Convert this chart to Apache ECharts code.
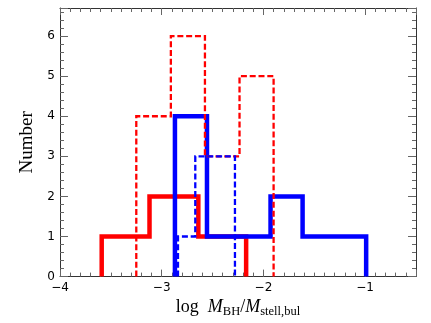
<!DOCTYPE html>
<html>
<head>
<meta charset="utf-8">
<script src="https://cdn.jsdelivr.net/npm/echarts@6/dist/echarts.min.js"></script>
<style>html,body{margin:0;padding:0;background:#fff}#c{width:431px;height:323px}</style>
</head>
<body>
<div id="c"></div>
<script>
// Histogram bin edges and counts
const redSolidEdges = [-3.59, -3.12, -2.64, -2.17];
const redSolidCounts = [1, 2, 1];
const blueSolidEdges = [-2.87, -2.555, -2.24, -1.93, -1.615, -1.30, -0.99];
const blueSolidCounts = [4, 1, 1, 2, 1, 1];
const redDashEdges = [-3.25, -2.91, -2.575, -2.235, -1.90];
const redDashCounts = [4, 6, 3, 5];
const blueDashEdges = [-2.84, -2.67, -2.475, -2.28];
const blueDashCounts = [1, 3, 3];
const xTicks = [-4, -3, -2, -1];
const yTicks = [0, 1, 2, 3, 4, 5, 6];

function outline(edges, counts) {
  const pts = [[edges[0], 0]];
  for (let i = 0; i < counts.length; i++) {
    pts.push([edges[i], counts[i]]);
    pts.push([edges[i + 1], counts[i]]);
  }
  pts.push([edges[edges.length - 1], 0]);
  return pts;
}

const XMIN = -4, XMAX = -0.5, YMIN = 0, YMAX = 6.7;
const frameColor = '#333';
const tickColor = '#666';
const labelFont = {fontFamily: 'DejaVu Sans', fontSize: 12, color: '#000'};

function xAx(pos, interval, len, labels, line, name) {
  const a = {
    type: 'value', position: pos, min: XMIN, max: XMAX, interval: interval,
    axisLine: {show: line, onZero: false, lineStyle: {color: frameColor, width: 1}},
    axisTick: {show: true, inside: true, length: len, lineStyle: {color: tickColor, width: 1}},
    splitLine: {show: false},
    axisLabel: labels ? Object.assign({
      margin: 5,
      formatter: v => xTicks.indexOf(Math.round(v * 1000) / 1000) >= 0 ? String(v).replace('-', '\u2212') : ''
    }, labelFont) : {show: false}
  };
  if (name) Object.assign(a, name);
  return a;
}
function yAx(pos, interval, len, labels, line, name) {
  const a = {
    type: 'value', position: pos, min: YMIN, max: YMAX, interval: interval,
    axisLine: {show: line, onZero: false, lineStyle: {color: frameColor, width: 1}},
    axisTick: {show: true, inside: true, length: len, lineStyle: {color: tickColor, width: 1}},
    splitLine: {show: false},
    axisLabel: labels ? Object.assign({
      margin: 5,
      formatter: v => yTicks.indexOf(Math.round(v * 1000) / 1000) >= 0 ? String(v) : ''
    }, labelFont) : {show: false}
  };
  if (name) Object.assign(a, name);
  return a;
}

const chart = echarts.init(document.getElementById('c'), null, {renderer: 'canvas'});
const option = {
  animation: false,
  backgroundColor: '#fff',
  grid: {left: 60, right: 15, top: 8, bottom: 41, containLabel: false},
  xAxis: [
    xAx('bottom', 1, 7, true, true, {
      name: 'log  {i|M}{s|BH}/{i|M}{s|stell,bul}',
      nameLocation: 'middle', nameGap: 16,
      nameTextStyle: {
        fontFamily: 'Liberation Serif', fontSize: 18, color: '#000', verticalAlign: 'top',
        rich: {
          i: {fontFamily: 'Liberation Serif', fontStyle: 'italic', fontSize: 18, color: '#000'},
          s: {fontFamily: 'Liberation Serif', fontSize: 12.5, color: '#000', padding: [8, 0, 0, 0]}
        }
      }
    }),
    xAx('bottom', 0.1, 4, false, false),
    xAx('top', 1, 7, false, true),
    xAx('top', 0.1, 4, false, false)
  ],
  yAxis: [
    yAx('left', 1, 8, true, true, {
      name: 'Number', nameLocation: 'middle', nameGap: 13, nameRotate: 90,
      nameTextStyle: {fontFamily: 'Liberation Serif', fontSize: 19, color: '#000'}
    }),
    yAx('left', 0.2, 4, false, false),
    yAx('right', 1, 8, false, true),
    yAx('right', 0.2, 4, false, false)
  ],
  series: [
    {type: 'line', name: 'red solid', data: outline(redSolidEdges, redSolidCounts), symbol: 'none', z: 2,
     lineStyle: {color: '#ff0000', width: 4.5, type: 'solid', join: 'miter', cap: 'butt'}},
    {type: 'line', name: 'blue solid', data: outline(blueSolidEdges, blueSolidCounts), symbol: 'none', z: 3,
     lineStyle: {color: '#0000ff', width: 4.5, type: 'solid', join: 'miter', cap: 'butt'}},
    {type: 'line', name: 'red dashed', data: outline(redDashEdges, redDashCounts), symbol: 'none', z: 4,
     lineStyle: {color: '#ff0000', width: 2.3, type: [6, 2.8], join: 'miter', cap: 'butt'}},
    {type: 'line', name: 'blue dashed', data: outline(blueDashEdges, blueDashCounts), symbol: 'none', z: 5,
     lineStyle: {color: '#0000ff', width: 2.3, type: [6, 2.8], join: 'miter', cap: 'butt'}}
  ]
};
chart.setOption(option);
</script>
</body>
</html>
